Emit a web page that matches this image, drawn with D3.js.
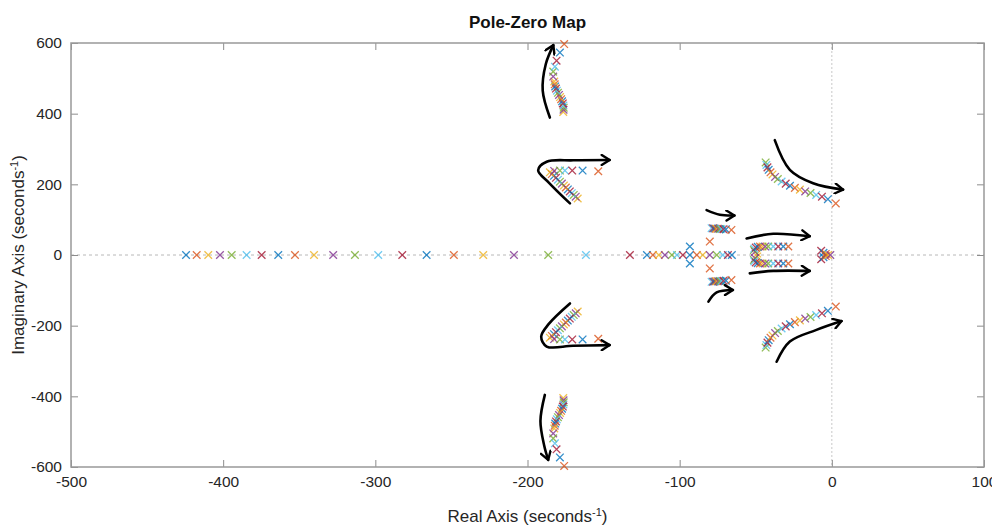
<!DOCTYPE html>
<html>
<head>
<meta charset="utf-8">
<script src="https://cdn.jsdelivr.net/npm/d3@7"></script>
<style>
  body { margin: 0; background: #fff; }
  text { font-family: "Liberation Sans Narrow", "Liberation Sans", Arial, sans-serif; }
</style>
</head>
<body>
<script>
// MATLAB default line colour order
const colors = ["#0072BD", "#D95319", "#EDB120", "#7E2F8E", "#77AC30", "#4DBEEE", "#A2142F"]

const xTicks = [-500, -400, -300, -200, -100, 0, 100]
const yTicks = [-600, -400, -200, 0, 200, 400, 600]

// pole branches, points in sweep order; "first" = index of the first sweep value shown
const farReal = [-424.4, -417.4, -409.8, -402.1, -394.4, -384.6, -374.7, -363.8, -352.8, -340.3, -327.7,
    -313.4, -298.1, -282.3, -266.3, -248.4, -229.1, -208.9, -186.4, -161.6, -132.7]
const nearReal = [-121.5, -117.6, -113.7, -109.7, -105.1, -101.8, -97.9, -93.3, -88.7, -84.8, -80.2,
    -75.6, -71.6, -68.3, -65.7]
const splitRe = [-93.3, -80.2]
const splitIm = [24, 38]
const midPairRe = [-79, -78, -77.2, -76.4, -75.5, -74.6, -73.6, -72.5, -71.2, -69.6, -66]
const midPairIm = [76, 75.5, 75, 74.5, 74, 74, 73.5, 73.5, 73, 72.5, 71]
const highRe = [-176.5, -176.3, -176.2, -176.4, -176.8, -177.3, -177.9, -178.6, -179.3, -180, -180.7,
    -181.3, -181.8, -182.1, -182.4, -183.1, -183.1, -182, -180.9, -178.7, -175.9]
const highIm = [405, 411, 417, 423, 429, 435, 441, 447, 453, 459, 465, 471, 477, 483, 491, 505, 519, 533,
    550, 573, 597]
const bendRe = [-167, -168.3, -169.6, -170.9, -172.2, -173.5, -174.8, -176.1, -177.4, -178.7, -180, -181.3,
    -182.6, -184, -185.3, -182.5, -178.7, -175.4, -170.6, -163.8, -153.5]
const bendIm = [160, 165, 170, 175, 180, 185.5, 191, 196.5, 202, 207.5, 213, 218.5, 224, 229, 234, 238,
    239, 239, 239, 239, 237]
const slowRe = [-49, -50.5, -51.2, -51, -50, -48.7, -47.2, -45.5, -43.8, -41.8, -38.5, -35.2, -31.9, -28.6]
const slowIm = [4, 9, 14, 18, 21, 23, 24, 24, 24, 24, 24, 24, 24, 24]
const arcRe = [-43.5, -43, -42.3, -41.5, -40.3, -39, -37.3, -35.5, -33, -30.3, -27.5, -24.3, -21, -17.5,
    -14, -10.3, -6.5, -2.6, 2.6]
const arcIm = [262, 255, 248, 241, 234, 228, 221, 215, 208, 202, 196, 190, 185, 180, 175.5, 170, 165, 158, 146]
const originRe = [-7, -5.5, -4, -2.5, -1]
const originIm = [12, 6, 3, 0, 0]

// hand-drawn arrows, [re, im]
const arrows = [
    [[-185.3, 389], [-190, 465], [-188, 540], [-183, 594]],
    [[-172.1, 146], [-186, 205], [-193, 240], [-187.4, 264], [-170, 268], [-146, 269]],
    [[-172.1, -137], [-186, -195], [-191, -231], [-187.4, -259], [-170, -257], [-146, -255]],
    [[-188.6, -396], [-191.5, -470], [-189, -540], [-186.4, -580]],
    [[-82.3, 127], [-73.6, 114], [-64, 112]],
    [[-81.1, -132], [-75.7, -106], [-65, -99]],
    [[-56, 47], [-38.5, 60], [-14.5, 53]],
    [[-53.9, -52], [-38.5, -45], [-14.5, -45]],
    [[-37.5, 325], [-27.6, 241], [-12.3, 203], [7.4, 185]],
    [[-36.3, -302], [-27.6, -245], [-10.1, -212], [6.4, -187]]
]

const branches = [
    { re: farReal, im: farReal.map(() => 0), first: 0 },
    { re: nearReal, im: nearReal.map(() => 0), first: 0 },
    { re: splitRe, im: splitIm, first: 0 },
    { re: midPairRe, im: midPairIm, first: 5 },
    { re: highRe, im: highIm, first: 2 },
    { re: bendRe, im: bendIm, first: 2 },
    { re: slowRe, im: slowIm, first: 2 },
    { re: arcRe, im: arcIm, first: 4 },
    { re: originRe, im: originIm, first: 6 }
]

const poles = []
for (let b of branches) {
    b.re.forEach((r, i) => {
        const c = colors[(b.first + i) % colors.length]
        poles.push({ re: r, im: b.im[i], color: c })
        if (b.im[i] !== 0) poles.push({ re: r, im: -b.im[i], color: c })
    })
}

const W = 992, H = 528
const margin = { top: 43, right: 8, bottom: 61, left: 71 },
    width = W - margin.left - margin.right,
    height = H - margin.top - margin.bottom

const x = d3.scaleLinear().domain([-500, 100]).range([0, width])
const y = d3.scaleLinear().domain([-600, 600]).range([height, 0])

const svg = d3.select("body").append("svg")
    .attr("width", W)
    .attr("height", H)

const g = svg.append("g")
    .attr("transform", "translate(" + margin.left + "," + margin.top + ")")

// dotted zero lines
g.append("line")
    .attr("x1", 0).attr("x2", width)
    .attr("y1", y(0)).attr("y2", y(0))
    .style("stroke", "#b8b8b8").style("stroke-dasharray", "3,3").style("stroke-width", 1)
g.append("line")
    .attr("x1", x(0)).attr("x2", x(0))
    .attr("y1", 0).attr("y2", height)
    .style("stroke", "#c8c8c8").style("stroke-dasharray", "2,2").style("stroke-width", 1)

// axes, inward ticks on all four sides
const tickFmt = d => String(d)
const axisStyle = sel => {
    sel.select(".domain").remove()
    sel.selectAll(".tick line").style("stroke", "#8c8c8c").style("stroke-width", 1)
    sel.selectAll(".tick text").style("font-size", "15.5px").style("fill", "#262626")
}
g.append("g").attr("transform", "translate(0," + height + ")")
    .call(d3.axisBottom(x).tickValues(xTicks).tickSize(-7).tickPadding(9).tickFormat(tickFmt))
    .call(axisStyle)
g.append("g")
    .call(d3.axisTop(x).tickValues(xTicks).tickSize(-7).tickFormat(""))
    .call(axisStyle)
g.append("g")
    .call(d3.axisLeft(y).tickValues(yTicks).tickSize(-7).tickPadding(9).tickFormat(tickFmt))
    .call(axisStyle)
g.append("g").attr("transform", "translate(" + width + ",0)")
    .call(d3.axisRight(y).tickValues(yTicks).tickSize(-7).tickFormat(""))
    .call(axisStyle)

g.append("rect")
    .attr("width", width).attr("height", height)
    .style("fill", "none").style("stroke", "#999").style("stroke-width", 1.5)

// pole markers
const s = 3.8
g.append("g").selectAll("path.pole")
    .data(poles)
    .join("path")
    .attr("class", "pole")
    .attr("d", d => {
        const px = x(d.re), py = y(d.im)
        return `M${px - s},${py - s}L${px + s},${py + s}M${px - s},${py + s}L${px + s},${py - s}`
    })
    .style("fill", "none")
    .style("stroke", d => d.color)
    .style("stroke-opacity", 0.8)
    .style("stroke-width", 1.3)

// arrows
svg.append("defs").append("marker")
    .attr("id", "head")
    .attr("viewBox", "0 0 12 12")
    .attr("refX", 10).attr("refY", 6)
    .attr("markerWidth", 12).attr("markerHeight", 12)
    .attr("markerUnits", "userSpaceOnUse")
    .attr("orient", "auto")
    .append("path")
    .attr("d", "M2,1L10,6L2,11")
    .style("fill", "none").style("stroke", "#000").style("stroke-width", 2.4)
    .style("stroke-linecap", "round").style("stroke-linejoin", "round")

const arrowLine = d3.line()
    .x(d => x(d[0]))
    .y(d => y(d[1]))
    .curve(d3.curveCatmullRom)

g.append("g").selectAll("path.arrow")
    .data(arrows)
    .join("path")
    .attr("class", "arrow")
    .attr("d", arrowLine)
    .attr("marker-end", "url(#head)")
    .style("fill", "none")
    .style("stroke", "#000")
    .style("stroke-width", 2.6)
    .style("stroke-linecap", "round")

// title and labels
svg.append("text")
    .attr("x", margin.left + width / 2).attr("y", 28)
    .attr("text-anchor", "middle")
    .style("font-size", "17px").style("font-weight", "bold").style("fill", "#111")
    .text("Pole-Zero Map")

const xl = svg.append("text")
    .attr("x", margin.left + width / 2).attr("y", 522)
    .attr("text-anchor", "middle")
    .style("font-size", "17px").style("fill", "#262626")
xl.append("tspan").text("Real Axis (seconds")
xl.append("tspan").attr("dy", -6).style("font-size", "11px").text("-1")
xl.append("tspan").attr("dy", 6).text(")")

const yl = svg.append("text")
    .attr("transform", "translate(24," + (margin.top + height / 2) + ") rotate(-90)")
    .attr("text-anchor", "middle")
    .style("font-size", "17px").style("fill", "#262626")
yl.append("tspan").text("Imaginary Axis (seconds")
yl.append("tspan").attr("dy", -6).style("font-size", "11px").text("-1")
yl.append("tspan").attr("dy", 6).text(")")
</script>
</body>
</html>
